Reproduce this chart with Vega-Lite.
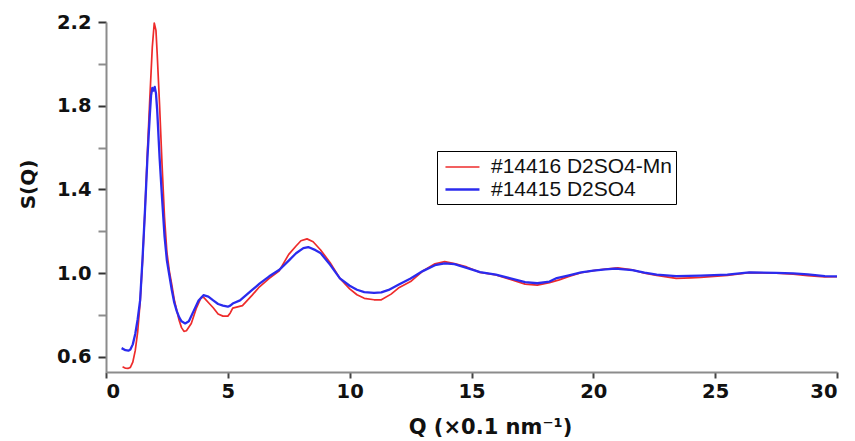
{
  "$schema": "https://vega.github.io/schema/vega-lite/v6.json",
  "width": 731,
  "height": 350,
  "autosize": {"type": "none"},
  "padding": {"left": 106, "top": 22, "right": 18, "bottom": 69},
  "background": "white",
  "config": {"view": {"stroke": null}, "font": "DejaVu Sans"},
  "datasets": {
    "curves": [
      {"series": "#14416 D2SO4-Mn", "Q": 0.68, "S": 0.553},
      {"series": "#14416 D2SO4-Mn", "Q": 0.8, "S": 0.546},
      {"series": "#14416 D2SO4-Mn", "Q": 0.9, "S": 0.545},
      {"series": "#14416 D2SO4-Mn", "Q": 1.0, "S": 0.55},
      {"series": "#14416 D2SO4-Mn", "Q": 1.1, "S": 0.575},
      {"series": "#14416 D2SO4-Mn", "Q": 1.2, "S": 0.63},
      {"series": "#14416 D2SO4-Mn", "Q": 1.3, "S": 0.72},
      {"series": "#14416 D2SO4-Mn", "Q": 1.4, "S": 0.86},
      {"series": "#14416 D2SO4-Mn", "Q": 1.5, "S": 1.06},
      {"series": "#14416 D2SO4-Mn", "Q": 1.6, "S": 1.3},
      {"series": "#14416 D2SO4-Mn", "Q": 1.7, "S": 1.58},
      {"series": "#14416 D2SO4-Mn", "Q": 1.8, "S": 1.84},
      {"series": "#14416 D2SO4-Mn", "Q": 1.9, "S": 2.08},
      {"series": "#14416 D2SO4-Mn", "Q": 1.98, "S": 2.195},
      {"series": "#14416 D2SO4-Mn", "Q": 2.05, "S": 2.16},
      {"series": "#14416 D2SO4-Mn", "Q": 2.1, "S": 2.05},
      {"series": "#14416 D2SO4-Mn", "Q": 2.2, "S": 1.8},
      {"series": "#14416 D2SO4-Mn", "Q": 2.3, "S": 1.52},
      {"series": "#14416 D2SO4-Mn", "Q": 2.4, "S": 1.27},
      {"series": "#14416 D2SO4-Mn", "Q": 2.5, "S": 1.1},
      {"series": "#14416 D2SO4-Mn", "Q": 2.6, "S": 1.01},
      {"series": "#14416 D2SO4-Mn", "Q": 2.7, "S": 0.945},
      {"series": "#14416 D2SO4-Mn", "Q": 2.8, "S": 0.875},
      {"series": "#14416 D2SO4-Mn", "Q": 2.9, "S": 0.825},
      {"series": "#14416 D2SO4-Mn", "Q": 3.0, "S": 0.775},
      {"series": "#14416 D2SO4-Mn", "Q": 3.1, "S": 0.74},
      {"series": "#14416 D2SO4-Mn", "Q": 3.2, "S": 0.722},
      {"series": "#14416 D2SO4-Mn", "Q": 3.3, "S": 0.725},
      {"series": "#14416 D2SO4-Mn", "Q": 3.5, "S": 0.76},
      {"series": "#14416 D2SO4-Mn", "Q": 3.7, "S": 0.83},
      {"series": "#14416 D2SO4-Mn", "Q": 3.9, "S": 0.883},
      {"series": "#14416 D2SO4-Mn", "Q": 4.0, "S": 0.886},
      {"series": "#14416 D2SO4-Mn", "Q": 4.2, "S": 0.86},
      {"series": "#14416 D2SO4-Mn", "Q": 4.4, "S": 0.835},
      {"series": "#14416 D2SO4-Mn", "Q": 4.6, "S": 0.805},
      {"series": "#14416 D2SO4-Mn", "Q": 4.8, "S": 0.795},
      {"series": "#14416 D2SO4-Mn", "Q": 5.0, "S": 0.795},
      {"series": "#14416 D2SO4-Mn", "Q": 5.1, "S": 0.81},
      {"series": "#14416 D2SO4-Mn", "Q": 5.2, "S": 0.833},
      {"series": "#14416 D2SO4-Mn", "Q": 5.6, "S": 0.845},
      {"series": "#14416 D2SO4-Mn", "Q": 6.0, "S": 0.895},
      {"series": "#14416 D2SO4-Mn", "Q": 6.3, "S": 0.935},
      {"series": "#14416 D2SO4-Mn", "Q": 6.7, "S": 0.975},
      {"series": "#14416 D2SO4-Mn", "Q": 7.1, "S": 1.01},
      {"series": "#14416 D2SO4-Mn", "Q": 7.5, "S": 1.09},
      {"series": "#14416 D2SO4-Mn", "Q": 7.8, "S": 1.13},
      {"series": "#14416 D2SO4-Mn", "Q": 8.0, "S": 1.155},
      {"series": "#14416 D2SO4-Mn", "Q": 8.25, "S": 1.164},
      {"series": "#14416 D2SO4-Mn", "Q": 8.5, "S": 1.15},
      {"series": "#14416 D2SO4-Mn", "Q": 8.8, "S": 1.112},
      {"series": "#14416 D2SO4-Mn", "Q": 9.2, "S": 1.05},
      {"series": "#14416 D2SO4-Mn", "Q": 9.6, "S": 0.975},
      {"series": "#14416 D2SO4-Mn", "Q": 10.0, "S": 0.925},
      {"series": "#14416 D2SO4-Mn", "Q": 10.3, "S": 0.897},
      {"series": "#14416 D2SO4-Mn", "Q": 10.6, "S": 0.88},
      {"series": "#14416 D2SO4-Mn", "Q": 11.0, "S": 0.873},
      {"series": "#14416 D2SO4-Mn", "Q": 11.3, "S": 0.873},
      {"series": "#14416 D2SO4-Mn", "Q": 11.7, "S": 0.9},
      {"series": "#14416 D2SO4-Mn", "Q": 12.0, "S": 0.929},
      {"series": "#14416 D2SO4-Mn", "Q": 12.5, "S": 0.96},
      {"series": "#14416 D2SO4-Mn", "Q": 13.0, "S": 1.01},
      {"series": "#14416 D2SO4-Mn", "Q": 13.5, "S": 1.045},
      {"series": "#14416 D2SO4-Mn", "Q": 13.9, "S": 1.055},
      {"series": "#14416 D2SO4-Mn", "Q": 14.3, "S": 1.046},
      {"series": "#14416 D2SO4-Mn", "Q": 14.8, "S": 1.03},
      {"series": "#14416 D2SO4-Mn", "Q": 15.35, "S": 1.004},
      {"series": "#14416 D2SO4-Mn", "Q": 16.0, "S": 0.992},
      {"series": "#14416 D2SO4-Mn", "Q": 16.6, "S": 0.97},
      {"series": "#14416 D2SO4-Mn", "Q": 17.2, "S": 0.948},
      {"series": "#14416 D2SO4-Mn", "Q": 17.7, "S": 0.943},
      {"series": "#14416 D2SO4-Mn", "Q": 18.2, "S": 0.955},
      {"series": "#14416 D2SO4-Mn", "Q": 18.6, "S": 0.968},
      {"series": "#14416 D2SO4-Mn", "Q": 19.0, "S": 0.985},
      {"series": "#14416 D2SO4-Mn", "Q": 19.5, "S": 1.002},
      {"series": "#14416 D2SO4-Mn", "Q": 20.0, "S": 1.012},
      {"series": "#14416 D2SO4-Mn", "Q": 20.5, "S": 1.02},
      {"series": "#14416 D2SO4-Mn", "Q": 21.0, "S": 1.025},
      {"series": "#14416 D2SO4-Mn", "Q": 21.6, "S": 1.016},
      {"series": "#14416 D2SO4-Mn", "Q": 22.1, "S": 1.0},
      {"series": "#14416 D2SO4-Mn", "Q": 22.6, "S": 0.99},
      {"series": "#14416 D2SO4-Mn", "Q": 23.4, "S": 0.975},
      {"series": "#14416 D2SO4-Mn", "Q": 24.0, "S": 0.978},
      {"series": "#14416 D2SO4-Mn", "Q": 24.4, "S": 0.98},
      {"series": "#14416 D2SO4-Mn", "Q": 25.5, "S": 0.99},
      {"series": "#14416 D2SO4-Mn", "Q": 26.4, "S": 1.003},
      {"series": "#14416 D2SO4-Mn", "Q": 27.5, "S": 1.0},
      {"series": "#14416 D2SO4-Mn", "Q": 28.2, "S": 0.995},
      {"series": "#14416 D2SO4-Mn", "Q": 28.8, "S": 0.988},
      {"series": "#14416 D2SO4-Mn", "Q": 29.5, "S": 0.982},
      {"series": "#14416 D2SO4-Mn", "Q": 30.0, "S": 0.983},
      {"series": "#14415 D2SO4", "Q": 0.64, "S": 0.642},
      {"series": "#14415 D2SO4", "Q": 0.8, "S": 0.632},
      {"series": "#14415 D2SO4", "Q": 0.92, "S": 0.63},
      {"series": "#14415 D2SO4", "Q": 1.0, "S": 0.635},
      {"series": "#14415 D2SO4", "Q": 1.1, "S": 0.66},
      {"series": "#14415 D2SO4", "Q": 1.2, "S": 0.71},
      {"series": "#14415 D2SO4", "Q": 1.3, "S": 0.78},
      {"series": "#14415 D2SO4", "Q": 1.4, "S": 0.87},
      {"series": "#14415 D2SO4", "Q": 1.5, "S": 1.07},
      {"series": "#14415 D2SO4", "Q": 1.6, "S": 1.3},
      {"series": "#14415 D2SO4", "Q": 1.7, "S": 1.55},
      {"series": "#14415 D2SO4", "Q": 1.8, "S": 1.76},
      {"series": "#14415 D2SO4", "Q": 1.85, "S": 1.85},
      {"series": "#14415 D2SO4", "Q": 1.9, "S": 1.885},
      {"series": "#14415 D2SO4", "Q": 1.95, "S": 1.872},
      {"series": "#14415 D2SO4", "Q": 2.0, "S": 1.89},
      {"series": "#14415 D2SO4", "Q": 2.05, "S": 1.86},
      {"series": "#14415 D2SO4", "Q": 2.1, "S": 1.78},
      {"series": "#14415 D2SO4", "Q": 2.2, "S": 1.55},
      {"series": "#14415 D2SO4", "Q": 2.3, "S": 1.36},
      {"series": "#14415 D2SO4", "Q": 2.4, "S": 1.18},
      {"series": "#14415 D2SO4", "Q": 2.5, "S": 1.06},
      {"series": "#14415 D2SO4", "Q": 2.6, "S": 0.99},
      {"series": "#14415 D2SO4", "Q": 2.7, "S": 0.92},
      {"series": "#14415 D2SO4", "Q": 2.8, "S": 0.86},
      {"series": "#14415 D2SO4", "Q": 2.9, "S": 0.82},
      {"series": "#14415 D2SO4", "Q": 3.0, "S": 0.79},
      {"series": "#14415 D2SO4", "Q": 3.1, "S": 0.77},
      {"series": "#14415 D2SO4", "Q": 3.25, "S": 0.76},
      {"series": "#14415 D2SO4", "Q": 3.4, "S": 0.77},
      {"series": "#14415 D2SO4", "Q": 3.6, "S": 0.82},
      {"series": "#14415 D2SO4", "Q": 3.8, "S": 0.87},
      {"series": "#14415 D2SO4", "Q": 4.0, "S": 0.895},
      {"series": "#14415 D2SO4", "Q": 4.2, "S": 0.888},
      {"series": "#14415 D2SO4", "Q": 4.4, "S": 0.87},
      {"series": "#14415 D2SO4", "Q": 4.6, "S": 0.853},
      {"series": "#14415 D2SO4", "Q": 4.8, "S": 0.845},
      {"series": "#14415 D2SO4", "Q": 5.0, "S": 0.84},
      {"series": "#14415 D2SO4", "Q": 5.1, "S": 0.845},
      {"series": "#14415 D2SO4", "Q": 5.2, "S": 0.855},
      {"series": "#14415 D2SO4", "Q": 5.5, "S": 0.87},
      {"series": "#14415 D2SO4", "Q": 6.0, "S": 0.92},
      {"series": "#14415 D2SO4", "Q": 6.3, "S": 0.95},
      {"series": "#14415 D2SO4", "Q": 6.7, "S": 0.985},
      {"series": "#14415 D2SO4", "Q": 7.1, "S": 1.015},
      {"series": "#14415 D2SO4", "Q": 7.5, "S": 1.06},
      {"series": "#14415 D2SO4", "Q": 7.8, "S": 1.095},
      {"series": "#14415 D2SO4", "Q": 8.1, "S": 1.12},
      {"series": "#14415 D2SO4", "Q": 8.3, "S": 1.125},
      {"series": "#14415 D2SO4", "Q": 8.6, "S": 1.11},
      {"series": "#14415 D2SO4", "Q": 8.8, "S": 1.097},
      {"series": "#14415 D2SO4", "Q": 9.2, "S": 1.04},
      {"series": "#14415 D2SO4", "Q": 9.6, "S": 0.975},
      {"series": "#14415 D2SO4", "Q": 10.0, "S": 0.94},
      {"series": "#14415 D2SO4", "Q": 10.3, "S": 0.921},
      {"series": "#14415 D2SO4", "Q": 10.6, "S": 0.91},
      {"series": "#14415 D2SO4", "Q": 11.0, "S": 0.906},
      {"series": "#14415 D2SO4", "Q": 11.3, "S": 0.908},
      {"series": "#14415 D2SO4", "Q": 11.6, "S": 0.92},
      {"series": "#14415 D2SO4", "Q": 12.0, "S": 0.945},
      {"series": "#14415 D2SO4", "Q": 12.5, "S": 0.975},
      {"series": "#14415 D2SO4", "Q": 13.0, "S": 1.01},
      {"series": "#14415 D2SO4", "Q": 13.5, "S": 1.038},
      {"series": "#14415 D2SO4", "Q": 13.9, "S": 1.047},
      {"series": "#14415 D2SO4", "Q": 14.3, "S": 1.043},
      {"series": "#14415 D2SO4", "Q": 14.8, "S": 1.025},
      {"series": "#14415 D2SO4", "Q": 15.35, "S": 1.005},
      {"series": "#14415 D2SO4", "Q": 16.0, "S": 0.993},
      {"series": "#14415 D2SO4", "Q": 16.6, "S": 0.975},
      {"series": "#14415 D2SO4", "Q": 17.2, "S": 0.957},
      {"series": "#14415 D2SO4", "Q": 17.7, "S": 0.952},
      {"series": "#14415 D2SO4", "Q": 18.2, "S": 0.96},
      {"series": "#14415 D2SO4", "Q": 18.5, "S": 0.977},
      {"series": "#14415 D2SO4", "Q": 19.0, "S": 0.99},
      {"series": "#14415 D2SO4", "Q": 19.5, "S": 1.004},
      {"series": "#14415 D2SO4", "Q": 20.0, "S": 1.012},
      {"series": "#14415 D2SO4", "Q": 20.5, "S": 1.018},
      {"series": "#14415 D2SO4", "Q": 20.9, "S": 1.022},
      {"series": "#14415 D2SO4", "Q": 21.6, "S": 1.015},
      {"series": "#14415 D2SO4", "Q": 22.1, "S": 1.003},
      {"series": "#14415 D2SO4", "Q": 22.6, "S": 0.993},
      {"series": "#14415 D2SO4", "Q": 23.4, "S": 0.986},
      {"series": "#14415 D2SO4", "Q": 24.4, "S": 0.988},
      {"series": "#14415 D2SO4", "Q": 25.5, "S": 0.993},
      {"series": "#14415 D2SO4", "Q": 26.4, "S": 1.004},
      {"series": "#14415 D2SO4", "Q": 27.5, "S": 1.002},
      {"series": "#14415 D2SO4", "Q": 28.2, "S": 0.999},
      {"series": "#14415 D2SO4", "Q": 28.8, "S": 0.994},
      {"series": "#14415 D2SO4", "Q": 29.5, "S": 0.986},
      {"series": "#14415 D2SO4", "Q": 30.0, "S": 0.985}
    ]
  },
  "data": {"name": "curves"},
  "mark": {"type": "line", "clip": true, "strokeJoin": "round"},
  "encoding": {
    "x": {
      "field": "Q",
      "type": "quantitative",
      "scale": {"domain": [0, 30], "nice": false, "zero": false},
      "axis": {
        "title": "Q (×0.1 nm⁻¹)",
        "values": [0, 5, 10, 15, 20, 25, 30],
        "grid": false,
        "domainColor": "#8c8c8c",
        "domainWidth": 2,
        "tickColor": "#444444",
        "tickWidth": 2,
        "tickSize": 6,
        "labelFont": "DejaVu Sans",
        "labelFontSize": 19.5,
        "labelFontWeight": "bold",
        "labelColor": "#111111",
        "labelPadding": 4,
        "titleFont": "DejaVu Sans",
        "titleFontSize": 21,
        "titleFontWeight": "bold",
        "titleColor": "#111111",
        "titleX": 384,
        "titleY": 61,
        "titleAlign": "center",
        "titleBaseline": "alphabetic"
      }
    },
    "y": {
      "field": "S",
      "type": "quantitative",
      "scale": {"domain": [0.528, 2.2], "nice": false, "zero": false},
      "axis": {
        "title": "S(Q)",
        "values": [0.6, 0.8, 1.0, 1.2, 1.4, 1.6, 1.8, 2.0, 2.2],
        "labelExpr": "round(datum.value*10)%4==2 ? format(datum.value, '.1f') : ''",
        "grid": false,
        "domainColor": "#8c8c8c",
        "domainWidth": 2,
        "tickColor": {"condition": {"test": "round(datum.value*10)%4==2", "value": "#333333"}, "value": "#8c8c8c"},
        "tickWidth": 2,
        "tickSize": 8,
        "labelFont": "DejaVu Sans",
        "labelFontSize": 19.5,
        "labelFontWeight": "bold",
        "labelColor": "#111111",
        "labelPadding": 7,
        "titleFont": "DejaVu Sans",
        "titleFontSize": 20,
        "titleFontWeight": "bold",
        "titleColor": "#111111",
        "titleAngle": -90,
        "titleX": -72,
        "titleY": 162,
        "titleAlign": "center",
        "titleBaseline": "alphabetic"
      }
    },
    "color": {
      "field": "series",
      "type": "nominal",
      "scale": {"domain": ["#14416 D2SO4-Mn", "#14415 D2SO4"], "range": ["#ee2b2b", "#2b2bee"]},
      "legend": {
        "title": null,
        "orient": "none",
        "legendX": 331,
        "legendY": 129,
        "strokeColor": "black",
        "fillColor": "white",
        "padding": 4,
        "symbolType": "M-0.73,0H2.36",
        "symbolSize": 484,
        "labelFont": "Liberation Sans",
        "labelFontSize": 21,
        "labelColor": "#111111",
        "labelOffset": 25,
        "labelLimit": 400,
        "rowPadding": 0
      }
    },
    "strokeWidth": {
      "field": "series",
      "type": "nominal",
      "scale": {"domain": ["#14416 D2SO4-Mn", "#14415 D2SO4"], "range": [1.7, 2.3]}
    }
  }
}
